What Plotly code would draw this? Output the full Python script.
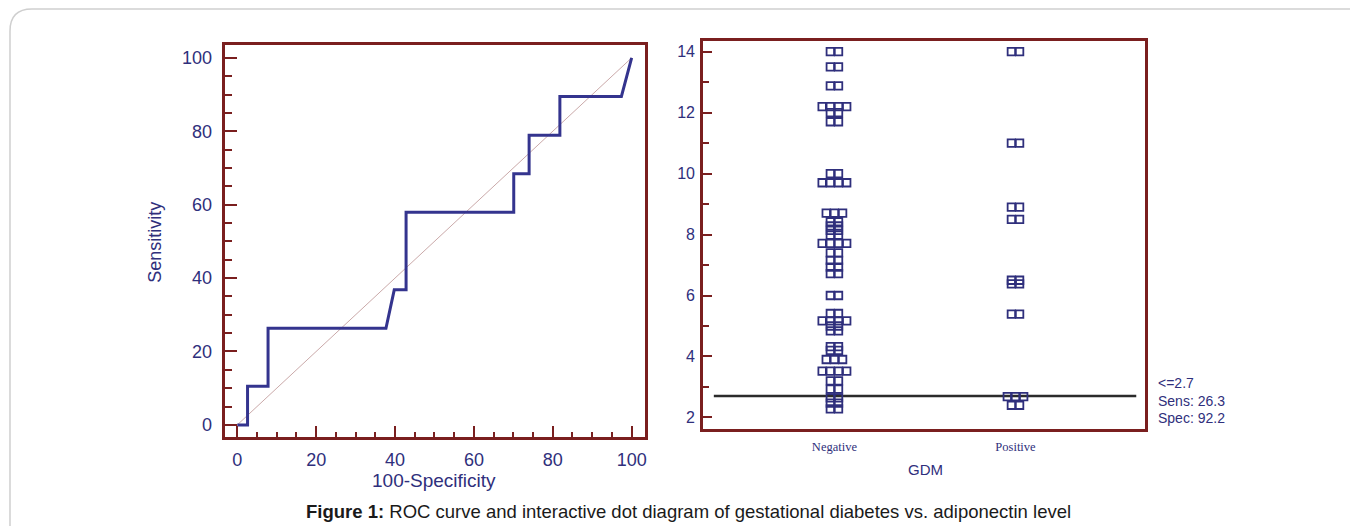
import plotly.graph_objects as go
from collections import Counter

# the page body adds an 8px margin; the figure is sized to fill the rest of the window
OFF = 8
W, H = 1358 - OFF, 526 - OFF

# ---------------- data ----------------
roc_fpr = [0, 2.6, 2.6, 7.8, 7.8, 37.7, 39.8, 42.8, 42.8, 70.1, 70.1, 74.0, 74.0, 81.8, 81.8, 97.4, 100]
roc_sens = [0, 0, 10.5, 10.5, 26.3, 26.3, 36.8, 36.8, 57.9, 57.9, 68.4, 68.4, 78.9, 78.9, 89.5, 89.5, 100]

categories = ["Negative", "Positive"]
negative_vals = ([14.0] * 2 + [13.5] * 2 + [12.88] * 2 + [12.2] * 4 + [12.0] * 2 + [11.7] * 2
                 + [10.0] * 2 + [9.7] * 4 + [8.7] * 3 + [8.42] * 2 + [8.28] * 2 + [8.14] * 2
                 + [7.98] * 2 + [7.71] * 4 + [7.4] * 2 + [7.15] * 2 + [6.93] * 2 + [6.72] * 2
                 + [6.0] * 2 + [5.41] * 2 + [5.17] * 4 + [5.0] * 2 + [4.84] * 2 + [4.32] * 2
                 + [4.2] * 2 + [3.9] * 3 + [3.52] * 4 + [3.2] * 2 + [2.93] * 2 + [2.64] * 2
                 + [2.47] * 2 + [2.28] * 2)
positive_vals = ([14.0] * 2 + [11.0] * 2 + [8.9] * 2 + [8.5] * 2 + [6.5] * 2 + [6.38] * 2
                 + [5.39] * 2 + [2.68] * 3 + [2.4] * 2)

cutoff = 2.7
cutoff_text = ["<=2.7", "Sens: 26.3", "Spec: 92.2"]

roc_xticks = [0, 20, 40, 60, 80, 100]
roc_yticks = [0, 20, 40, 60, 80, 100]
dot_yticks = [2, 4, 6, 8, 10, 12, 14]

# ---------------- styles ----------------
FRAME = "#7a1f1f"
NAVY = "#2f2f7c"
CURVE = "#34348e"
FONT = "Liberation Sans, Arial, sans-serif"


def px_x(p):
    return (p - OFF) / W


def px_y(p):
    return 1 - (p - OFF) / H


def spread(vals, center, pitch):
    counts = Counter(vals)
    seen = Counter()
    xs = []
    for v in vals:
        n = counts[v]
        i = seen[v]
        seen[v] += 1
        xs.append(center + (i - (n - 1) / 2) * pitch)
    return xs


fig = go.Figure()

# ROC diagonal
fig.add_trace(go.Scatter(x=[0, 100], y=[0, 100], mode="lines",
                         line=dict(color="#caa9a9", width=1),
                         xaxis="x", yaxis="y", hoverinfo="skip", showlegend=False))
# ROC curve
fig.add_trace(go.Scatter(x=roc_fpr, y=roc_sens, mode="lines",
                         line=dict(color=CURVE, width=3),
                         xaxis="x", yaxis="y", showlegend=False))

# dot diagram
pitch = 8.2 / 181.3
for ci, vals in enumerate([negative_vals, positive_vals]):
    fig.add_trace(go.Scatter(x=spread(vals, ci, pitch), y=vals, mode="markers",
                             marker=dict(symbol="square-open", size=7.5, color=NAVY,
                                         line=dict(width=1.8, color=NAVY)),
                             xaxis="x2", yaxis="y2", showlegend=False))

tickfont_roc = dict(family=FONT, size=18, color=NAVY)
tickfont_dot = dict(family=FONT, size=16, color=NAVY)

fig.update_layout(
    width=W, height=H,
    margin=dict(l=0, r=0, t=0, b=0),
    paper_bgcolor="white", plot_bgcolor="white",
    xaxis=dict(domain=[px_x(225), px_x(646)], range=[-3.2, 103.4],
               showline=True, linewidth=3, linecolor=FRAME, mirror=True,
               showgrid=False, zeroline=False,
               tickmode="array", tickvals=roc_xticks, ticks="inside", ticklen=11,
               tickwidth=2, tickcolor=FRAME, tickfont=tickfont_roc, ticklabelstandoff=4,
               minor=dict(dtick=5, ticks="inside", ticklen=5, tickwidth=2, tickcolor=FRAME),
               anchor="y"),
    yaxis=dict(domain=[px_y(437), px_y(45)], range=[-3.3, 103.5],
               showline=True, linewidth=3, linecolor=FRAME, mirror=True,
               showgrid=False, zeroline=False,
               tickmode="array", tickvals=roc_yticks, ticks="inside", ticklen=12,
               tickwidth=2, tickcolor=FRAME, tickfont=tickfont_roc, ticklabelstandoff=6,
               minor=dict(dtick=5, ticks="inside", ticklen=7, tickwidth=2, tickcolor=FRAME),
               anchor="x"),
    xaxis2=dict(domain=[px_x(704), px_x(1147)], range=[-0.726, 1.717],
                showline=True, linewidth=2.5, linecolor=FRAME, mirror=True,
                showgrid=False, zeroline=False,
                tickmode="array", tickvals=[0, 1], ticktext=categories, ticks="",
                tickfont=dict(family="Liberation Serif, Times New Roman, serif", size=12.5, color=NAVY),
                ticklabelstandoff=4, anchor="y2"),
    yaxis2=dict(domain=[px_y(429), px_y(41)], range=[1.62, 14.35],
                showline=True, linewidth=2.5, linecolor=FRAME, mirror=True,
                showgrid=False, zeroline=False,
                tickmode="array", tickvals=dot_yticks, ticks="inside", ticklen=9,
                tickwidth=2, tickcolor=FRAME, tickfont=tickfont_dot, ticklabelstandoff=2,
                minor=dict(dtick=1, ticks="inside", ticklen=6, tickwidth=2, tickcolor=FRAME),
                anchor="x2"),
)

# cut-off line
fig.add_shape(type="line", xref="x2", yref="y2", x0=-0.666, x1=1.667, y0=cutoff, y1=cutoff,
              line=dict(color="#2b2b2b", width=2.5), layer="below")

# outer rounded frame
r = 22
x0, y0, x1, y1 = 10, 9, 1420, 580
path = (f"M {px_x(x0)},{px_y(y0 + r)} Q {px_x(x0)},{px_y(y0)} {px_x(x0 + r)},{px_y(y0)} "
        f"L {px_x(x1)},{px_y(y0)} L {px_x(x1)},{px_y(y1)} L {px_x(x0)},{px_y(y1)} Z")
fig.add_shape(type="path", xref="paper", yref="paper", path=path,
              line=dict(color="#cfcfcf", width=1.5), layer="below")

ann = []
ann.append(dict(text="Sensitivity", x=px_x(155), y=px_y(242), textangle=-90,
                font=dict(family=FONT, size=18, color=NAVY)))
ann.append(dict(text="100-Specificity", x=px_x(435), y=px_y(480),
                font=dict(family=FONT, size=19, color=NAVY)))
ann.append(dict(text="GDM", x=px_x(927), y=px_y(469),
                font=dict(family=FONT, size=15, color=NAVY)))
for i, t in enumerate(cutoff_text):
    ann.append(dict(text=t, x=px_x(1158), y=px_y(383 + 17.5 * i), xanchor="left",
                    font=dict(family=FONT, size=14, color=NAVY)))
ann.append(dict(text="<b>Figure 1:</b> ROC curve and interactive dot diagram of gestational diabetes vs. adiponectin level",
                x=px_x(690), y=px_y(511), font=dict(family=FONT, size=18.5, color="#1a1a1a")))
for a in ann:
    a.setdefault("xanchor", "center")
    a.update(xref="paper", yref="paper", yanchor="middle", showarrow=False)
fig.update_layout(annotations=ann)

fig.write_html("out.html")
